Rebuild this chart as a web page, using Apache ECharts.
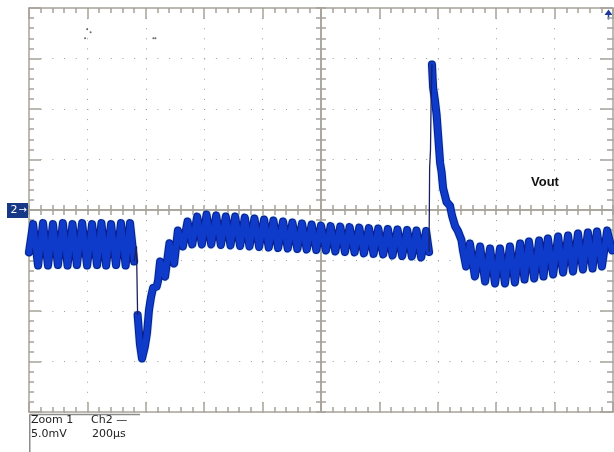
<!DOCTYPE html>
<html><head><meta charset="utf-8">
<script src="https://cdn.jsdelivr.net/npm/echarts@6/dist/echarts.min.js"></script>
<style>html,body{margin:0;padding:0;background:#fff}#c{width:614px;height:452px}</style>
</head><body><div id="c"></div>
<script>
// time in µs (200 µs/div, 10 div), voltage in mV (5 mV/div, 8 div), 0 mV = channel 2 marker
const timeRange = [0, 2000];
const voltRange = [-20, 20];
const timePerDiv = 200;
const voltPerDiv = 5;
const scaleTexts = ['Zoom 1', 'Ch2 \u2014', '5.0mV', '200\u00b5s'];
const traceName = 'Vout';

// steady ripple before the load step
const ripplePre = [[0,-4.2],[14,-1.4],[31,-5.5],[48,-1.3],[65,-5.5],[82,-1.4],[99,-5.45],[116,-1.3],[132,-5.5],[149,-1.4],[164,-5.45],[182,-1.3],[199,-5.5],[216,-1.4],[233,-5.45],[248,-1.3],[264,-5.5],[281,-1.4],[298,-5.45],[315,-1.3],[331,-5.5],[346,-1.3],[360,-5.1]];
// fast falling edge
const dropEdge = [[360,-5.1],[368,-3.6],[372,-10.4]];
// undershoot, recovery and ripple until the unload step
const recovery = [[372,-10.4],[380,-13.3],[387,-14.7],[397,-13.5],[404,-12.2],[411,-9.9],[418,-8.6],[425,-7.7],[437,-7.6],[442,-7.0],[449,-5.1],[466,-6.6],[481,-3.3],[497,-5.3],
[510,-2.03],[527,-3.61],[543,-1.14],[559,-3.41],[576,-0.65],[592,-3.41],[608,-0.45],[624,-3.41],[641,-0.55],[657,-3.46],[674,-0.65],[690,-3.51],[706,-0.65],[723,-3.56],[739,-0.75],[755,-3.61],[772,-0.84],[788,-3.66],[805,-0.94],[821,-3.71],[837,-1.04],[853,-3.76],[870,-1.14],[886,-3.81],[902,-1.24],[919,-3.86],[935,-1.34],[951,-3.91],[968,-1.44],[984,-3.96],[1000,-1.54],[1017,-4.01],[1033,-1.59],[1049,-4.11],[1066,-1.64],[1082,-4.16],[1098,-1.69],[1115,-4.2],[1131,-1.74],[1147,-4.3],[1164,-1.79],[1180,-4.35],[1196,-1.83],[1213,-4.4],[1229,-1.88],[1245,-4.5],[1262,-1.93],[1278,-4.55],[1295,-1.98],[1311,-4.6],[1327,-2.03],[1343,-4.7],[1360,-2.08],[1370,-4.16]];
// fast rising edge
const jumpEdge = [[1370,-4.16],[1372,4.16],[1375,5.94],[1377,10.59],[1380,14.4]];
// overshoot decay and ripple afterwards
const decay = [[1380,14.4],[1384,12.1],[1390,10.89],[1396,9.41],[1401,7.43],[1408,4.65],[1413,3.76],[1418,2.18],[1430,0.79],[1442,0.40],[1449,-0.59],[1459,-1.58],[1469,-2.08],[1481,-2.97],[1486,-3.96],[1497,-5.6],
[1510,-3.32],[1527,-6.58],[1545,-3.62],[1562,-7.08],[1579,-3.81],[1596,-7.27],[1613,-3.81],[1630,-7.27],[1647,-3.62],[1664,-7.17],[1682,-3.32],[1697,-6.88],[1712,-3.12],[1730,-6.78],[1747,-3.02],[1762,-6.58],[1777,-2.82],[1795,-6.38],[1812,-2.63],[1829,-6.18],[1846,-2.53],[1863,-6.09],[1880,-2.33],[1897,-5.89],[1914,-2.23],[1930,-5.79],[1945,-2.13],[1962,-5.59],[1980,-2.03],[1997,-4.0]];
// stray display specks near the top
const specks = [[199,17.9],[211,17.6],[192,17.0],[426,17.0],[433,17.0]];

const AX = '#a7a39b';
const DOT = '#9c9c9c';
const L = 29, T = 8, W = 584, H = 404;

function xAx(grid, pos, major, minor, extra) {
  return Object.assign({
    type: 'value', gridIndex: grid, position: pos, min: timeRange[0], max: timeRange[1], interval: timePerDiv,
    axisLabel: {show: false}, splitLine: {show: false},
    axisLine: {onZero: false, lineStyle: {color: AX, width: 1.5}},
    axisTick: {inside: true, length: major, lineStyle: {color: AX, width: 1.5}},
    minorTick: {show: true, splitNumber: 5, length: minor, lineStyle: {color: AX, width: 1.5}}
  }, extra || {});
}
function yAx(grid, pos, major, minor, extra) {
  return Object.assign({
    type: 'value', gridIndex: grid, position: pos, min: voltRange[0], max: voltRange[1], interval: voltPerDiv,
    axisLabel: {show: false}, splitLine: {show: false},
    axisLine: {onZero: false, lineStyle: {color: AX, width: 1.5}},
    axisTick: {inside: true, length: major, lineStyle: {color: AX, width: 1.5}},
    minorTick: {show: true, splitNumber: 5, length: minor, lineStyle: {color: AX, width: 1.5}}
  }, extra || {});
}
function hidX(grid) { return {type: 'value', gridIndex: grid, show: false, min: timeRange[0], max: timeRange[1]}; }
function hidY(grid) { return {type: 'value', gridIndex: grid, show: false, min: voltRange[0], max: voltRange[1]}; }

function thick(data) {
  const base = {type: 'line', xAxisIndex: 0, yAxisIndex: 0, data: data, showSymbol: false, silent: true, animation: false};
  return [
    Object.assign({}, base, {lineStyle: {width: 9.5, color: 'rgba(130,210,235,0.35)', join: 'round', cap: 'round'}}),
    Object.assign({}, base, {lineStyle: {width: 8, color: '#0a1e8c', join: 'round', cap: 'round'}}),
    Object.assign({}, base, {lineStyle: {width: 6, color: '#0f3bcb', join: 'round', cap: 'round'}})
  ];
}
function thin(data) {
  return {type: 'line', xAxisIndex: 0, yAxisIndex: 0, data: data, showSymbol: false, silent: true, animation: false,
    lineStyle: {width: 1.3, color: '#1c1f5e'}};
}

const chart = echarts.init(document.getElementById('c'));
chart.setOption({
  animation: false,
  backgroundColor: '#ffffff',
  grid: [
    {left: L, top: T, width: W, height: H},
    {left: L, top: T, width: W, height: H / 2},
    {left: L, top: T + H / 2, width: W, height: H / 2},
    {left: L, top: T, width: W / 2, height: H},
    {left: L + W / 2, top: T, width: W / 2, height: H}
  ],
  xAxis: [
    xAx(0, 'bottom', 10, 5, {splitLine: {show: true, lineStyle: {type: [1, 9.1], color: DOT, width: 1}}}),
    xAx(0, 'top', 11, 5),
    xAx(1, 'bottom', 5, 5),
    xAx(2, 'top', 5, 5),
    hidX(3),
    hidX(4)
  ],
  yAxis: [
    yAx(0, 'left', 12, 5, {splitLine: {show: true, lineStyle: {type: [1, 10.68], color: DOT, width: 1}}}),
    yAx(0, 'right', 13, 6),
    hidY(1),
    hidY(2),
    yAx(3, 'right', 5, 5),
    yAx(4, 'left', 5, 5)
  ],
  series: [].concat(
    thick(ripplePre), thick(recovery), thick(decay),
    [thin(dropEdge), thin(jumpEdge),
     {type: 'scatter', xAxisIndex: 0, yAxisIndex: 0, data: specks, symbolSize: 2, silent: true, animation: false, itemStyle: {color: '#444'}}]
  ),
  graphic: [
    {type: 'rect', shape: {x: 7, y: 203, width: 21, height: 15}, style: {fill: '#173787'}},
    {type: 'text', style: {text: '2', x: 10.5, y: 210.5, font: '11px "DejaVu Sans"', fill: '#ffffff', verticalAlign: 'middle'}},
    {type: 'text', style: {text: '\u2192', x: 18.5, y: 210, font: '10px "DejaVu Sans"', fill: '#ffffff', verticalAlign: 'middle'}},
    {type: 'polygon', shape: {points: [[604.5, 15], [608.5, 9.5], [612.5, 15]]}, style: {fill: '#1d3a9a'}},
    {type: 'line', shape: {x1: 608.5, y1: 14, x2: 608.5, y2: 19.5}, style: {stroke: '#1d3a9a', lineWidth: 1.5}},
    {type: 'text', style: {text: traceName, x: 531, y: 182.5, font: 'bold 13px "Liberation Sans", Arial', fill: '#111', verticalAlign: 'middle'}},
    {type: 'line', shape: {x1: 29.5, y1: 414.5, x2: 140, y2: 414.5}, style: {stroke: '#8c8c8c', lineWidth: 1.5}},
    {type: 'line', shape: {x1: 29.75, y1: 414.5, x2: 29.75, y2: 452}, style: {stroke: '#8c8c8c', lineWidth: 1.5}},
    {type: 'text', style: {text: scaleTexts[0], x: 31, y: 420, font: '11px "DejaVu Sans"', fill: '#222', verticalAlign: 'middle'}},
    {type: 'text', style: {text: scaleTexts[1], x: 91, y: 420, font: '11px "DejaVu Sans"', fill: '#222', verticalAlign: 'middle'}},
    {type: 'text', style: {text: scaleTexts[2], x: 31, y: 434, font: '11px "DejaVu Sans"', fill: '#222', verticalAlign: 'middle'}},
    {type: 'text', style: {text: scaleTexts[3], x: 92, y: 434, font: '11px "DejaVu Sans"', fill: '#222', verticalAlign: 'middle'}}
  ]
});
</script>
</body></html>
